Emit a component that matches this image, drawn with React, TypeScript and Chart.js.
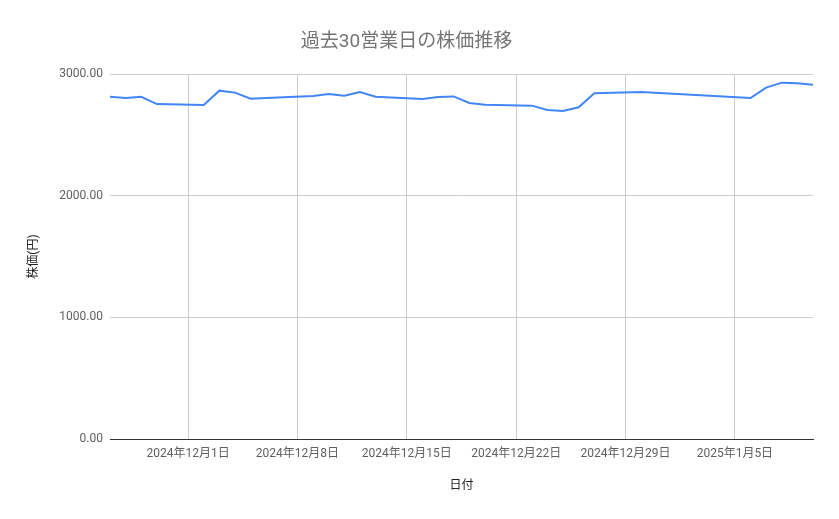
import { useEffect, useRef } from "react"
import { Chart, registerables } from "chart.js"

Chart.register(...registerables)

// business days shown on the chart
const dates = [
  "2024-11-26", "2024-11-27", "2024-11-28", "2024-11-29",
  "2024-12-02", "2024-12-03", "2024-12-04", "2024-12-05", "2024-12-06",
  "2024-12-09", "2024-12-10", "2024-12-11", "2024-12-12", "2024-12-13",
  "2024-12-16", "2024-12-17", "2024-12-18", "2024-12-19", "2024-12-20",
  "2024-12-23", "2024-12-24", "2024-12-25", "2024-12-26", "2024-12-27",
  "2024-12-30",
  "2025-01-06", "2025-01-07", "2025-01-08", "2025-01-09", "2025-01-10",
]

// closing price (円)
const prices = [
  2813, 2803, 2813, 2753,
  2745, 2863, 2847, 2797, 2803,
  2819, 2836, 2822, 2852, 2813,
  2795, 2811, 2816, 2762, 2748,
  2740, 2704, 2696, 2726, 2841,
  2852,
  2803, 2888, 2929, 2923, 2912,
]

// weekly tick dates on the x axis
const tickDates = ["2024-12-01", "2024-12-08", "2024-12-15", "2024-12-22", "2024-12-29", "2025-01-05"]
const xMinDate = "2024-11-26"
const xMaxDate = "2025-01-10"

const DAY = 86400000
const toDay = (s: string) => {
  const [y, m, d] = s.split("-").map(Number)
  return Date.UTC(y, m - 1, d) / DAY
}
const formatDay = (v: number) => {
  const dt = new Date(v * DAY)
  return `${dt.getUTCFullYear()}年${dt.getUTCMonth() + 1}月${dt.getUTCDate()}日`
}

const FONT = "Roboto, 'Noto Sans CJK JP', sans-serif"

export default function App() {
  const chartRef = useRef<HTMLCanvasElement>(null)
  const chartInstance = useRef<Chart | null>(null)

  useEffect(() => {
    document.body.style.margin = "0"
    if (!chartRef.current) return
    const ctx = chartRef.current.getContext("2d")
    if (!ctx) return

    if (chartInstance.current) {
      chartInstance.current.destroy()
    }

    chartInstance.current = new Chart(ctx, {
      type: "line",
      data: {
        datasets: [
          {
            label: "株価",
            data: dates.map((d, i) => ({ x: toDay(d), y: prices[i] })),
            borderColor: "#4285f4",
            backgroundColor: "#4285f4",
            borderWidth: 2,
            pointRadius: 0,
            tension: 0,
          },
        ],
      },
      options: {
        responsive: false,
        animation: false,
        font: { family: FONT },
        layout: { padding: { left: 0, right: 26, top: 0, bottom: 0 } },
        plugins: {
          legend: { display: false },
          tooltip: { enabled: false },
          title: {
            display: true,
            text: "過去30営業日の株価推移",
            color: "#757575",
            font: { family: FONT, size: 19, weight: "normal" },
            padding: { top: 30.6, bottom: 20.6 },
          },
        },
        scales: {
          x: {
            type: "linear",
            min: toDay(xMinDate),
            max: toDay(xMaxDate),
            afterFit: (scale) => {
              scale.height = 80
            },
            afterBuildTicks: (scale) => {
              scale.ticks = tickDates.map((d) => ({ value: toDay(d) }))
            },
            ticks: {
              autoSkip: false,
              maxRotation: 0,
              padding: 8,
              color: "#5f5f5f",
              font: { family: FONT, size: 12 },
              callback: (v) => formatDay(Number(v)),
            },
            grid: { color: "#cccccc", drawTicks: false },
            border: { color: "#333333", width: 1 },
            title: {
              display: true,
              text: "日付",
              color: "#222222",
              font: { family: FONT, size: 12 },
              padding: { top: 0, bottom: 25.4 },
            },
          },
          y: {
            min: 0,
            max: 3000,
            afterFit: (scale) => {
              scale.width = 110
            },
            ticks: {
              stepSize: 1000,
              padding: 7,
              color: "#5f5f5f",
              font: { family: FONT, size: 12 },
              callback: (v) => Number(v).toFixed(2),
            },
            grid: {
              drawTicks: false,
              color: (c) => (c.tick && c.tick.value === 0 ? "#333333" : "#cccccc"),
            },
            border: { display: false },
            title: {
              display: true,
              text: "株価(円)",
              color: "#222222",
              font: { family: FONT, size: 12 },
              padding: { top: 26.4, bottom: 0 },
            },
          },
        },
      },
    })

    return () => {
      if (chartInstance.current) {
        chartInstance.current.destroy()
        chartInstance.current = null
      }
    }
  }, [])

  return (
    <div style={{ width: 839, height: 519, background: "#ffffff" }}>
      <canvas ref={chartRef} width={839} height={519} />
    </div>
  )
}
